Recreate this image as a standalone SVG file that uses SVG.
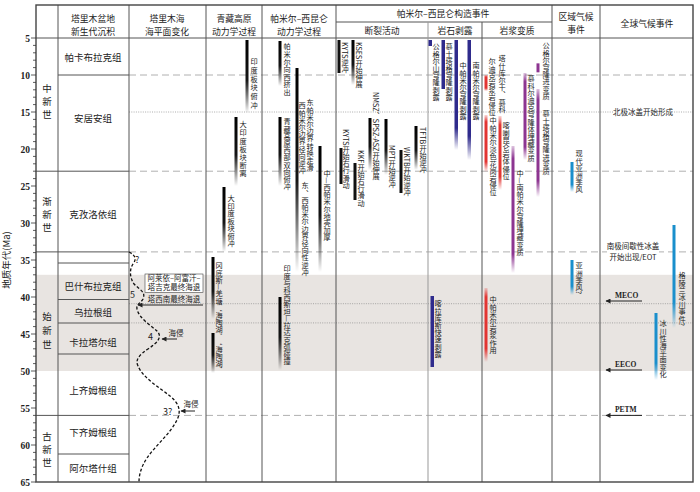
<svg xmlns="http://www.w3.org/2000/svg" width="700" height="492" viewBox="0 0 700 492">
<defs>
<style>
text{font-family:"Noto Sans CJK SC","Noto Sans",sans-serif;fill:#222}
.h{font-size:8.8px;text-anchor:middle}
.f{font-size:9.5px;text-anchor:middle}
.v{font-size:7.2px;writing-mode:vertical-rl}
.n{font-family:"Liberation Serif",serif;font-weight:bold;font-size:9.5px;text-anchor:end}
.e{font-family:"Liberation Serif",serif;font-weight:bold;font-size:7.5px}
.s{font-size:7.5px;text-anchor:middle}
.solid{stroke:#555;stroke-width:1;fill:none}
.dash{stroke:#b0b0b0;stroke-width:1;stroke-dasharray:7 4;fill:none}
.dot{stroke:#8a8a8a;stroke-width:0.7;stroke-dasharray:1 1.3;fill:none}
.arr{stroke:#222;stroke-width:1;fill:none;marker-end:url(#ah)}
</style>
<marker id="ah" viewBox="0 0 10 10" refX="9" refY="5" markerWidth="6" markerHeight="5" orient="auto" markerUnits="userSpaceOnUse"><path d="M0,0 L10,5 L0,10 z" fill="#222"/></marker>
<linearGradient id="gK" x1="0" y1="0" x2="0" y2="1"><stop offset="0" stop-color="#000"/><stop offset="0.55" stop-color="#151515"/><stop offset="1" stop-color="#000" stop-opacity="0"/></linearGradient>
<linearGradient id="gB" x1="0" y1="0" x2="0" y2="1"><stop offset="0" stop-color="#2f2b8c"/><stop offset="0.8" stop-color="#2f2b8c"/><stop offset="1" stop-color="#2f2b8c" stop-opacity="0"/></linearGradient>
<linearGradient id="gR" x1="0" y1="0" x2="0" y2="1"><stop offset="0" stop-color="#e23532" stop-opacity="0.2"/><stop offset="0.12" stop-color="#e23532"/><stop offset="0.82" stop-color="#e23532"/><stop offset="1" stop-color="#e23532" stop-opacity="0"/></linearGradient>
<linearGradient id="gP" x1="0" y1="0" x2="0" y2="1"><stop offset="0" stop-color="#8d3591" stop-opacity="0.3"/><stop offset="0.1" stop-color="#8d3591"/><stop offset="0.85" stop-color="#8d3591"/><stop offset="1" stop-color="#8d3591" stop-opacity="0"/></linearGradient>
<linearGradient id="gC" x1="0" y1="0" x2="0" y2="1"><stop offset="0" stop-color="#1a8fcc"/><stop offset="0.75" stop-color="#1a8fcc"/><stop offset="1" stop-color="#1a8fcc" stop-opacity="0"/></linearGradient>
</defs>
<rect width="700" height="492" fill="#fff"/>
<rect x="36" y="274.8" width="657" height="96.2" fill="#e8e4e1"/>

<g id="grid">
<path class="dash" d="M129,75H693 M129,171.2H693 M129,251.9H693 M129,415.4H693"/>
<path class="dot" d="M129,112H693 M129,303.7H693 M129,322.9H693"/>
<path class="solid" d="M36,38H693 M336,22H552 M58,75H129 M36,171.2H129 M36,251.9H129 M58,263H129 M58,299.5H129 M58,323H129 M58,354H129 M36,415.4H129 M58,454H129"/>
<path class="solid" d="M58,5V482 M129,5V482 M206,5V482 M262,5V482 M336,5V482 M482,22V482 M552,5V482 M600,5V482"/>
<path d="M428,22V482" stroke="#999" stroke-width="1"/>
<rect x="36" y="5" width="657" height="477" fill="none" stroke="#444" stroke-width="1.4"/>
</g>

<g id="axis">
<path stroke="#333" stroke-width="0.8" d="M31,38h5 M33,45.4h3 M33,52.8h3 M33,60.2h3 M33,67.6h3 M31,75h5 M33,82.4h3 M33,89.8h3 M33,97.2h3 M33,104.6h3 M31,112h5 M33,119.4h3 M33,126.8h3 M33,134.2h3 M33,141.6h3 M31,149h5 M33,156.4h3 M33,163.8h3 M33,171.2h3 M33,178.6h3 M31,186h5 M33,193.4h3 M33,200.8h3 M33,208.2h3 M33,215.6h3 M31,223h5 M33,230.4h3 M33,237.8h3 M33,245.2h3 M33,252.6h3 M31,260h5 M33,267.4h3 M33,274.8h3 M33,282.2h3 M33,289.6h3 M31,297h5 M33,304.4h3 M33,311.8h3 M33,319.2h3 M33,326.6h3 M31,334h5 M33,341.4h3 M33,348.8h3 M33,356.2h3 M33,363.6h3 M31,371h5 M33,378.4h3 M33,385.8h3 M33,393.2h3 M33,400.6h3 M31,408h5 M33,415.4h3 M33,422.8h3 M33,430.2h3 M33,437.6h3 M31,445h5 M33,452.4h3 M33,459.8h3 M33,467.2h3 M33,474.6h3 M31,482h5"/>
<text class="n" x="30" y="41.5">5</text>
<text class="n" x="30" y="78.5">10</text>
<text class="n" x="30" y="115.5">15</text>
<text class="n" x="30" y="152.5">20</text>
<text class="n" x="30" y="189.5">25</text>
<text class="n" x="30" y="226.5">30</text>
<text class="n" x="30" y="263.5">35</text>
<text class="n" x="30" y="300.5">40</text>
<text class="n" x="30" y="337.5">45</text>
<text class="n" x="30" y="374.5">50</text>
<text class="n" x="30" y="411.5">55</text>
<text class="n" x="30" y="448.5">60</text>
<text class="n" x="30" y="485.5">65</text>
<text x="10" y="260" font-size="9.5" text-anchor="middle" transform="rotate(-90 10 260)">地质年代(Ma)</text>
</g>

<g id="header">
<text class="h" x="93" y="22">塔里木盆地</text><text class="h" x="93" y="34.5">新生代沉积</text>
<text class="h" x="167" y="22">塔里木海</text><text class="h" x="167" y="34.5">海平面变化</text>
<text class="h" x="234" y="22">青藏高原</text><text class="h" x="234" y="34.5">动力学过程</text>
<text class="h" x="299" y="22">帕米尔–西昆仑</text><text class="h" x="299" y="34.5">动力学过程</text>
<text class="h" x="443" y="17">帕米尔–西昆仑构造事件</text>
<text class="h" x="382" y="34">断裂活动</text>
<text class="h" x="455" y="34">岩石剥露</text>
<text class="h" x="517" y="34">岩浆变质</text>
<text class="h" x="576" y="20">区域气候</text><text class="h" x="576" y="32.5">事件</text>
<text class="h" x="647" y="27">全球气候事件</text>
</g>

<g id="epochs">
<text class="f" x="47" y="92">中</text><text class="f" x="47" y="105">新</text><text class="f" x="47" y="118">世</text>
<text class="f" x="47" y="205">渐</text><text class="f" x="47" y="218">新</text><text class="f" x="47" y="231">世</text>
<text class="f" x="47" y="320">始</text><text class="f" x="47" y="334">新</text><text class="f" x="47" y="348">世</text>
<text class="f" x="47" y="440">古</text><text class="f" x="47" y="453">新</text><text class="f" x="47" y="466">世</text>
</g>

<g id="formations">
<text class="f" x="93" y="61">帕卡布拉克组</text>
<text class="f" x="93" y="122">安居安组</text>
<text class="f" x="93" y="218">克孜洛依组</text>
<text class="f" x="93" y="290">巴什布拉克组</text>
<text class="f" x="93" y="316">乌拉根组</text>
<text class="f" x="93" y="346">卡拉塔尔组</text>
<text class="f" x="93" y="394">上齐姆根组</text>
<text class="f" x="93" y="436">下齐姆根组</text>
<text class="f" x="93" y="472">阿尔塔什组</text>
</g>

<g id="sealevel">
<path d="M129,252 C135,255 137,259 133,264 C129,270 130,278 134,284 C140,290 146,292 143,299 C141,303 136,304 137,309 C139,318 150,325 157,331 C163,337 157,343 148,349 C139,355 135,360 138,366 C143,378 160,388 170,396 C180,404 181,412 177,420 C170,434 155,446 147,458 C141,467 139,475 139,482" fill="none" stroke="#111" stroke-width="1.3" stroke-dasharray="3 2"/>
<text x="135" y="263" font-size="9" font-family="Liberation Sans,sans-serif">?</text>
<text x="130" y="298" font-size="9" font-family="Liberation Sans,sans-serif">5</text>
<text x="148" y="340" font-size="9" font-family="Liberation Sans,sans-serif">4</text>
<text x="163" y="415" font-size="9" font-family="Liberation Sans,sans-serif">3?</text>
<rect x="145" y="274" width="58" height="18.5" fill="#fff" stroke="#444" stroke-width="0.6"/>
<text class="s" x="174" y="280.8" font-size="6">阿莱依–阿富汗–</text>
<text class="s" x="174" y="290.3" font-size="6">塔吉克最终海退</text>
<text class="s" x="174" y="301.8">塔西南最终海退</text>
<text class="s" x="176" y="336">海侵</text>
<text class="s" x="191" y="407">海侵</text>
</g>

<g id="tibet">
<rect x="245.5" y="40" width="3" height="73" fill="url(#gK)"/><text class="v" x="254" y="58" letter-spacing="1.5">印度板块俯冲</text>
<rect x="234.5" y="117" width="3" height="69" fill="url(#gK)"/><text class="v" x="243" y="121" letter-spacing="0.9">大印度板块断离</text>
<rect x="222.5" y="187" width="3" height="65" fill="url(#gK)"/><text class="v" x="231" y="195" letter-spacing="0.3">大印度板块俯冲</text>
<rect x="211.5" y="257" width="3" height="62" fill="url(#gK)"/><text class="v" x="219" y="262">冈底斯—羌塘‘海陶湖’</text>
<rect x="211.5" y="333" width="3" height="40" fill="url(#gK)"/><text class="v" x="219" y="338">‘海陶湖’</text>
</g>

<g id="pamir">
<rect x="278.5" y="41" width="3" height="45" fill="url(#gK)"/><text class="v" x="287" y="43" letter-spacing="0.4">帕米尔向西挤出</text>
<rect x="295.5" y="68" width="3" height="204" fill="url(#gK)"/>
<text class="v" x="310" y="99">东帕米尔边界转换走滑</text>
<text class="v" x="302" y="102">西帕米尔边界径向逆冲</text>
<text class="v" x="305" y="182">东、西帕米尔边界径向性逆冲</text>
<rect x="278.5" y="117" width="3" height="69" fill="url(#gK)"/><text class="v" x="287" y="118">青藏高原西部双向俯冲</text>
<rect x="318.5" y="146" width="3" height="126" fill="url(#gK)"/><text class="v" x="327" y="170">中—西帕米尔地壳加厚</text>
<rect x="278.5" y="297" width="3" height="73" fill="url(#gK)"/><text class="v" x="287" y="265">印度与科西斯坦—拉达克弧碰撞</text>
</g>

<g id="faults">
<rect x="337.5" y="40" width="3" height="33" fill="#111"/><text class="v" x="345" y="42">KYTS逆冲</text>
<rect x="351.5" y="40" width="3" height="45" fill="url(#gK)"/><text class="v" x="359" y="42">KSES开始伸展</text>
<rect x="339.5" y="148" width="3" height="36" fill="#111"/><text class="v" x="346" y="129">KYTS开始右行滑动</text>
<rect x="353.5" y="163" width="3" height="37" fill="#111"/><text class="v" x="361" y="150">KKF开始右行滑动</text>
<rect x="368.5" y="118" width="3" height="52" fill="url(#gK)"/><text class="v" x="376" y="92">NMSZ、SPSZ-ASZ开始伸展</text>
<rect x="384.5" y="119" width="3" height="56" fill="url(#gK)"/><text class="v" x="392" y="145">MPT开始逆冲</text>
<rect x="399.5" y="150" width="3" height="43" fill="#111"/><text class="v" x="407" y="147">WKTB开始逆冲</text>
<rect x="414.5" y="126" width="3" height="44" fill="url(#gK)"/><text class="v" x="423" y="127">TFTB开始逆冲</text>
</g>

<g id="exhumation">
<rect x="428.5" y="40" width="3.5" height="6" fill="#2f2b8c"/><text class="v" x="436" y="43">公格尔山穹隆剥露</text>
<rect x="441.5" y="40" width="3.5" height="49" fill="#2f2b8c"/><text class="v" x="449" y="43">慕士塔格穹隆剥露</text>
<rect x="454.5" y="40" width="3.5" height="110" fill="url(#gB)"/><text class="v" x="463" y="62">中帕米尔穹隆剥露</text>
<rect x="467.5" y="40" width="3.5" height="120" fill="url(#gB)"/><text class="v" x="476" y="62">南帕米尔穹隆剥露</text>
<rect x="430.5" y="296" width="3.5" height="71" fill="#2f2b8c"/><text class="v" x="438" y="300">喀拉库斯快速剥露</text>
</g>

<g id="magmatism">
<rect x="484.5" y="75" width="3" height="16" fill="url(#gR)"/>
<text class="v" x="502" y="55">塔什库尔干、慕科</text>
<text class="v" x="492" y="58">尔迪克岩浆岩侵位</text>
<rect x="484.5" y="115" width="3" height="57" fill="url(#gR)"/><text class="v" x="493" y="117">中帕米尔淡色花岗岩侵位</text>
<rect x="498.5" y="116" width="3" height="74" fill="url(#gR)"/><text class="v" x="506" y="122">喀喇昆仑岩体侵位</text>
<rect x="511.5" y="146" width="3" height="127" fill="url(#gP)"/><text class="v" x="520" y="170">中—南帕米尔穹隆埋藏变质</text>
<rect x="523.5" y="73" width="3" height="87" fill="url(#gP)"/><text class="v" x="531" y="75">慕科尔迪克穹隆体埋藏变质</text>
<rect x="536.5" y="63" width="3" height="10" fill="url(#gP)"/><text class="v" x="546" y="42">公格尔穹隆进变质</text>
<rect x="536.5" y="89" width="3" height="108" fill="url(#gP)"/><text class="v" x="546" y="110">慕士塔格穹隆进变质</text>
<rect x="484.5" y="288" width="3" height="74" fill="url(#gR)"/><text class="v" x="493" y="296">中帕米尔岩浆作用</text>
</g>

<g id="regional">
<rect x="570.5" y="162" width="3" height="30" fill="url(#gC)"/><text class="v" x="579" y="150">现代亚洲季风</text>
<rect x="570.5" y="260" width="3" height="35" fill="url(#gC)"/><text class="v" x="579" y="262">亚洲季风?</text>
</g>

<g id="global">
<rect x="614" y="106" width="58" height="12" fill="#fff"/>
<text class="s" x="643" y="114.5">北极冰盖开始形成</text>
<rect x="607" y="242" width="52" height="20" fill="#fff"/>
<text class="s" x="633" y="249" font-size="7">南极间歇性冰盖</text>
<text class="s" x="633" y="259.5" font-size="7">开始出现/EOT</text>
<text class="e" x="615" y="298">MECO</text>
<text class="e" x="615" y="367">EECO</text>
<text class="e" x="615" y="412">PETM</text>
<rect x="672.5" y="225" width="3" height="103" fill="url(#gC)"/><text class="v" x="682" y="272">格陵兰冰川事件?</text>
<rect x="654.5" y="313" width="3" height="67" fill="url(#gC)"/><text class="v" x="663" y="320">冰川性海平面变化</text>
</g>

<g id="connectors">
<path class="arr" d="M203,305H138"/>
<path class="arr" d="M177,339H162"/>
<path class="arr" d="M195,411H181"/>
<path class="arr" d="M642,301H606"/>
<path class="arr" d="M642,370H606"/>
<path class="arr" d="M642,415.4H606"/>
</g>
</svg>
